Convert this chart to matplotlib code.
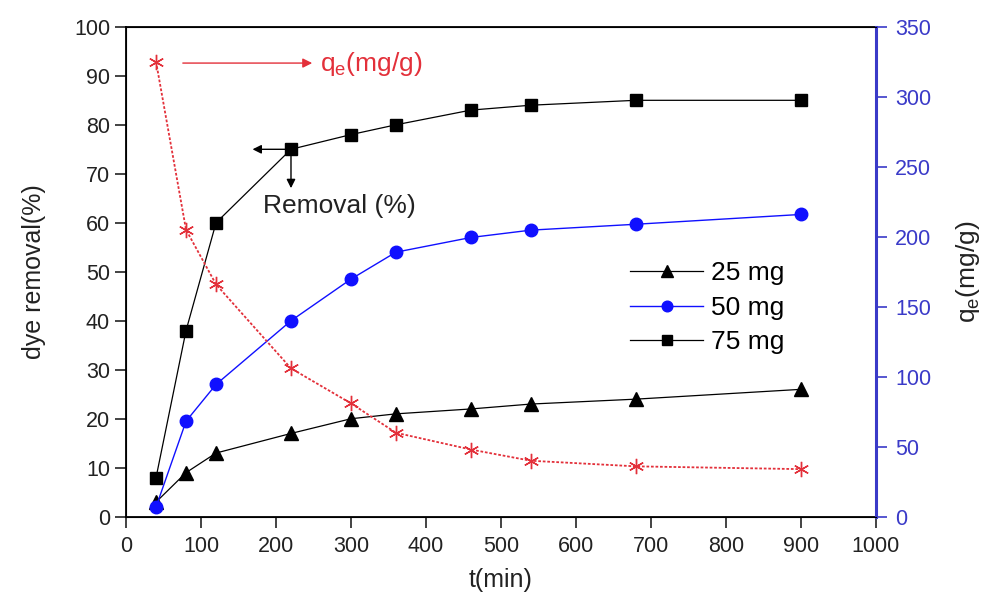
import matplotlib.pyplot as plt

plt.rcParams['font.family'] = ['Liberation Sans', 'DejaVu Sans']

t = [40, 80, 120, 220, 300, 360, 460, 540, 680, 900]
removal_25 = [3, 9, 13, 17, 20, 21, 22, 23, 24, 26]
removal_50 = [2, 19.5, 27, 40, 48.5, 54, 57, 58.5, 59.7, 61.7]
removal_75 = [8, 38, 60, 75, 78, 80, 83, 84, 85, 85]
qe = [325, 205, 166, 106, 81, 60, 48, 40, 36, 34]

blue = '#3a3ac8'
red = '#e3303a'
ink = '#222222'

fig, ax = plt.subplots(figsize=(9.85, 5.96), dpi=100)
fig.subplots_adjust(left=0.128, right=0.889, top=0.955, bottom=0.133)

ax.plot(t, removal_25, '-', color='black', lw=0.9, marker='^', ms=10, label='25 mg')
ax.plot(t, removal_50, '-', color='#1010ff', lw=1.0, marker='o', ms=9, label='50 mg')
ax.plot(t, removal_75, '-', color='black', lw=0.9, marker='s', ms=8, label='75 mg')

ax.set_xlim(0, 1000)
ax.set_ylim(0, 100)
ax.set_xticks(range(0, 1001, 100))
ax.set_yticks(range(0, 101, 10))
ax.set_xlabel('t(min)', fontsize=18, color=ink, labelpad=8)
ax.set_ylabel('dye removal(%)', fontsize=18, color=ink, labelpad=20)
ax.tick_params(labelsize=15.5, direction='out', length=8, width=1.2, colors=ink)
ax.tick_params(axis='x', pad=6)
for s in ax.spines.values():
    s.set_linewidth(1.3)

ax2 = ax.twinx()
ax2.plot(t, qe, linestyle=(0, (1.5, 1)), color=red, lw=1.3, marker=(6, 2, 0),
         ms=11, mec=red, mew=1.0)
ax2.set_ylim(0, 350)
ax2.set_yticks(range(0, 351, 50))
ax2.set_ylabel('q$_\\mathregular{e}$(mg/g)', fontsize=19, color=ink, labelpad=16)
ax2.tick_params(labelsize=15.5, direction='out', length=8, width=1.2,
                colors=blue, pad=6)
ax2.spines['right'].set_color(blue)
ax2.spines['right'].set_linewidth(2.2)

# annotations
ax.annotate('', xy=(252, 92.6), xytext=(72, 92.6),
            arrowprops=dict(arrowstyle='-|>', color=red, lw=1, mutation_scale=14))
ax.text(259, 92.4, 'q$_\\mathregular{e}$(mg/g)', color=red, fontsize=19, va='center')
ax.annotate('', xy=(165, 75), xytext=(220, 75),
            arrowprops=dict(arrowstyle='-|>', color='black', lw=1, mutation_scale=13))
ax.annotate('', xy=(220, 66.5), xytext=(220, 75),
            arrowprops=dict(arrowstyle='-|>', color='black', lw=1, mutation_scale=13))
ax.text(183, 63.5, 'Removal (%)', color=ink, fontsize=19, va='center')

ax.legend(loc='upper left', bbox_to_anchor=(0.64, 0.57), frameon=False,
          fontsize=19, handlelength=2.8, labelspacing=0.4, handletextpad=0.3,
          markerscale=0.85)

fig.savefig('out.png', dpi=100)
